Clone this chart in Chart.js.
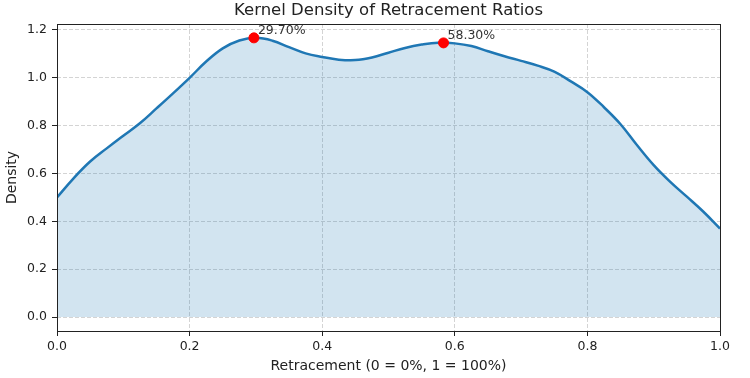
<!DOCTYPE html>
<html><head><meta charset="utf-8">
<script src="https://cdn.jsdelivr.net/npm/chart.js@4.4.0/dist/chart.umd.min.js"></script>
<style>html,body{margin:0;padding:0;background:#fff;}</style>
</head><body>
<canvas id="c" width="750" height="378"></canvas>
<script>
const retracement = [0.000,0.025,0.050,0.075,0.100,0.125,0.150,0.175,0.200,0.225,0.250,0.275,0.300,0.325,0.350,0.375,0.400,0.425,0.450,0.475,0.500,0.525,0.550,0.575,0.600,0.625,0.650,0.675,0.700,0.725,0.750,0.775,0.800,0.825,0.850,0.875,0.900,0.925,0.950,0.975,1.000];
const density = [0.50,0.58,0.65,0.705,0.758,0.81,0.872,0.935,1.00,1.068,1.123,1.156,1.167,1.155,1.128,1.102,1.087,1.076,1.074,1.085,1.105,1.125,1.139,1.147,1.144,1.133,1.111,1.09,1.071,1.051,1.026,0.985,0.94,0.877,0.806,0.718,0.635,0.565,0.503,0.44,0.37];
const peakX = [0.297, 0.583];
const peakY = [1.167, 1.146];
const peakLabels = ['29.70%', '58.30%'];
const xTicks = [0.0, 0.2, 0.4, 0.6, 0.8, 1.0];
const yTicks = [0.0, 0.2, 0.4, 0.6, 0.8, 1.0, 1.2];
const titleText = 'Kernel Density of Retracement Ratios';
const xLabel = 'Retracement (0 = 0%, 1 = 100%)';
const yLabel = 'Density';

const FONT = "'DejaVu Sans', sans-serif";
const TXT = '#222';

const framePlugin = {
  id: 'frame',
  afterDraw(chart) {
    const {ctx, chartArea: a, scales} = chart;
    ctx.save();
    ctx.strokeStyle = '#222';
    ctx.lineWidth = 1;
    ctx.setLineDash([]);
    ctx.strokeRect(Math.round(a.left) + 0.5, Math.round(a.top) + 0.5, Math.round(a.right - a.left), Math.round(a.bottom - a.top));
    ctx.fillStyle = '#333';
    ctx.font = "12.5px " + FONT;
    ctx.textAlign = 'left';
    ctx.textBaseline = 'middle';
    peakX.forEach((px, i) => {
      const x = scales.x.getPixelForValue(px);
      const y = scales.y.getPixelForValue(peakY[i]);
      ctx.fillText(peakLabels[i], x + 4, y - 7);
    });
    ctx.restore();
  }
};

const gridOpts = {color: 'rgba(160,160,160,0.45)', lineWidth: 1, tickColor: '#222', tickLength: 5, tickWidth: 1, tickBorderDash: []};

new Chart(document.getElementById('c'), {
  type: 'line',
  data: {
    datasets: [
      {
        type: 'scatter',
        data: peakX.map((x, i) => ({x: x, y: peakY[i]})),
        backgroundColor: '#ff0000',
        borderColor: '#ff0000',
        pointRadius: 5,
        pointHoverRadius: 5,
        order: 0
      },
      {
        data: retracement.map((x, i) => ({x: x, y: density[i]})),
        borderColor: '#1f77b4',
        borderWidth: 2.5,
        backgroundColor: 'rgba(31,119,180,0.2)',
        fill: 'origin',
        pointRadius: 0,
        tension: 0.4,
        order: 1
      }
    ]
  },
  options: {
    responsive: false,
    devicePixelRatio: 1,
    animation: false,
    layout: {padding: {left: 0, right: 30, top: 0, bottom: 0}},
    plugins: {
      legend: {display: false},
      tooltip: {enabled: false},
      title: {
        display: true,
        text: titleText,
        fullSize: false,
        color: TXT,
        font: {family: FONT, size: 16.5, weight: 'normal', lineHeight: 1.2},
        padding: {top: 0.5, bottom: 3.7}
      }
    },
    scales: {
      x: {
        type: 'linear',
        min: 0, max: 1,
        afterBuildTicks: s => { s.ticks = xTicks.map(v => ({value: v})); },
        afterFit: s => { s.height = 47; },
        ticks: {
          color: TXT, font: {family: FONT, size: 12.5}, maxRotation: 0, padding: 3,
          callback: v => Number(v).toFixed(1)
        },
        grid: gridOpts,
        border: {display: false, dash: [4, 2]},
        title: {display: true, text: xLabel, color: TXT, font: {family: FONT, size: 14, lineHeight: 1.2}, padding: {top: 0, bottom: 3.6}}
      },
      y: {
        type: 'linear',
        min: -0.0585, max: 1.225,
        afterBuildTicks: s => { s.ticks = yTicks.map(v => ({value: v})); },
        afterFit: s => { s.width = 57; },
        ticks: {
          color: TXT, font: {family: FONT, size: 12.5}, padding: 5,
          callback: v => Number(v).toFixed(1)
        },
        grid: gridOpts,
        border: {display: false, dash: [4, 2]},
        title: {display: true, text: yLabel, color: TXT, font: {family: FONT, size: 14, lineHeight: 1.2}, padding: {top: 3.5, bottom: 0}}
      }
    }
  },
  plugins: [framePlugin]
});
</script>
</body></html>
